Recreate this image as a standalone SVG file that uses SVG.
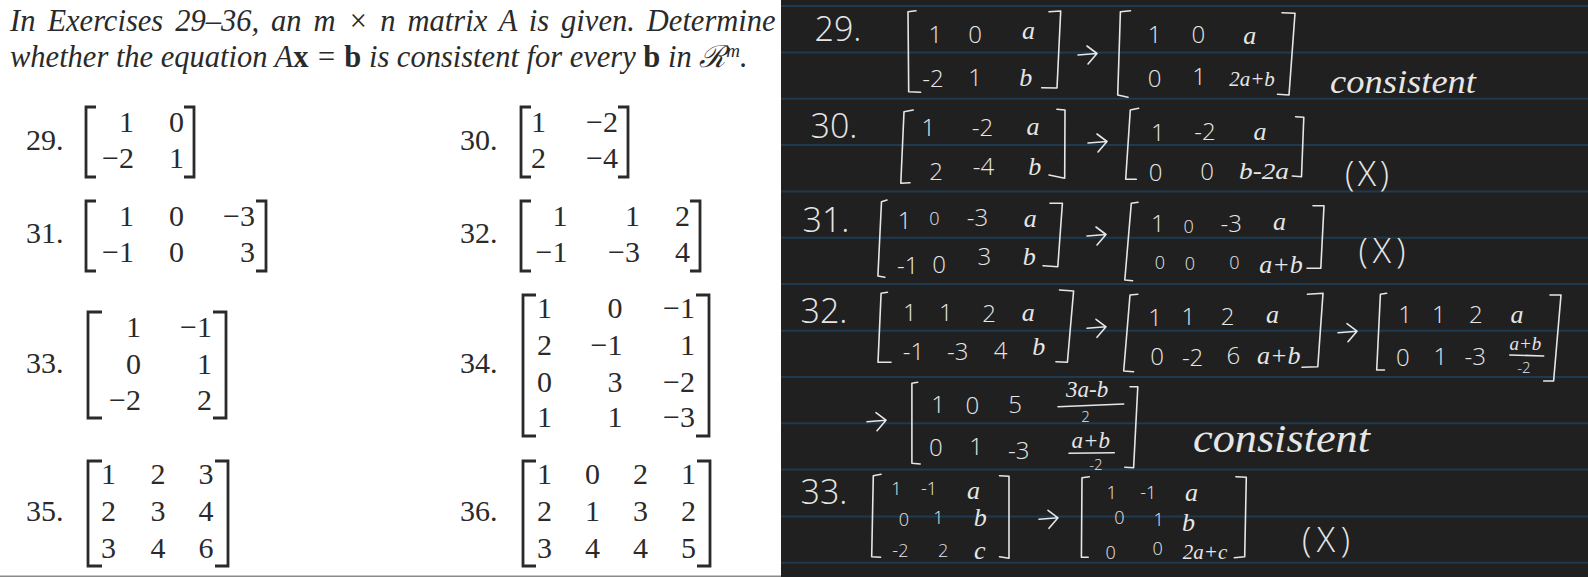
<svg xmlns="http://www.w3.org/2000/svg" width="1588" height="577" viewBox="0 0 1588 577">
<style>
.p{font-family:"Liberation Serif","Times New Roman",serif;font-size:30px;fill:#2a2a2a}
.lead{font-size:30.5px}
.it{font-style:italic}
.b{font-weight:bold;font-style:normal}
.e{text-anchor:end}
.br{fill:none;stroke:#2a2a2a;stroke-width:2.8}
.h{font-family:"Open Sans","Liberation Sans",sans-serif;font-weight:300;fill:#e6e6e6;text-anchor:middle;dominant-baseline:central;font-size:24px}
.l{font-family:"Liberation Serif",serif;font-style:italic;fill:#e6e6e6;text-anchor:middle;dominant-baseline:central;font-size:26px}
.sm{font-size:18px}
.md{font-size:21px}
.xs{font-size:15px}
.big{font-size:34px}
.con{text-anchor:start;dominant-baseline:auto}
.s{fill:none;stroke:#e6e6e6;stroke-width:1.6;stroke-linecap:round;stroke-linejoin:round}
.rule{stroke:#1d3a50;stroke-width:2}
</style>
<defs>
<path id="arrow" class="s" d="M0,0 L19,-1.5 M9,-9 L19,-1.5 L10,9"/>
</defs>
<rect width="1588" height="577" fill="#ffffff"/>
<rect x="0" y="575.5" width="781" height="1.5" fill="#8a8a8a"/>
<g id="textbook">
<text class="p lead it" x="10" y="31" word-spacing="4.4">In Exercises 29–36, an m × n matrix A is given. Determine</text>
<text class="p lead it" x="10" y="66.7">whether the equation A<tspan class="b">x</tspan> = <tspan class="b">b</tspan> is consistent for every <tspan class="b">b</tspan> in ℛ<tspan font-size="19" dy="-10">m</tspan><tspan dy="10">.</tspan></text>
<g id="ex29"><text class="p" x="26" y="150">29.</text><path class="br" d="M96,107H86V177H96M184,107H194V177H184"/>
<text class="p e" x="134" y="131.7">1</text><text class="p e" x="184" y="131.7">0</text><text class="p e" x="134" y="167.7">−2</text><text class="p e" x="184" y="167.7">1</text></g>
<g id="ex30"><text class="p" x="460" y="150">30.</text><path class="br" d="M531,107H521V177H531M618,107H628V177H618"/>
<text class="p e" x="546" y="131.7">1</text><text class="p e" x="618" y="131.7">−2</text><text class="p e" x="546" y="167.7">2</text><text class="p e" x="618" y="167.7">−4</text></g>
<g id="ex31"><text class="p" x="26" y="243">31.</text><path class="br" d="M96,201H86V271H96M256,201H266V271H256"/>
<text class="p e" x="134" y="225.7">1</text><text class="p e" x="184" y="225.7">0</text><text class="p e" x="255" y="225.7">−3</text><text class="p e" x="134" y="261.7">−1</text><text class="p e" x="184" y="261.7">0</text><text class="p e" x="255" y="261.7">3</text></g>
<g id="ex32"><text class="p" x="460" y="243">32.</text><path class="br" d="M531,201H521V271H531M690,201H700V271H690"/>
<text class="p e" x="567.5" y="225.7">1</text><text class="p e" x="640" y="225.7">1</text><text class="p e" x="690" y="225.7">2</text><text class="p e" x="567.5" y="261.7">−1</text><text class="p e" x="640" y="261.7">−3</text><text class="p e" x="690" y="261.7">4</text></g>
<g id="ex33"><text class="p" x="26" y="373">33.</text><path class="br" d="M102,312H88V418H102M213,312H226V418H213"/>
<text class="p e" x="141" y="337.3">1</text><text class="p e" x="212" y="337.3">−1</text><text class="p e" x="141" y="374">0</text><text class="p e" x="212" y="374">1</text><text class="p e" x="141" y="410">−2</text><text class="p e" x="212" y="410">2</text></g>
<g id="ex34"><text class="p" x="460" y="373">34.</text><path class="br" d="M536,295H523V436H536M696,295H709V436H696"/>
<text class="p e" x="552" y="318.3">1</text><text class="p e" x="622.5" y="318.3">0</text><text class="p e" x="695" y="318.3">−1</text>
<text class="p e" x="552" y="355">2</text><text class="p e" x="622.5" y="355">−1</text><text class="p e" x="695" y="355">1</text>
<text class="p e" x="552" y="391.7">0</text><text class="p e" x="622.5" y="391.7">3</text><text class="p e" x="695" y="391.7">−2</text>
<text class="p e" x="552" y="427.3">1</text><text class="p e" x="622.5" y="427.3">1</text><text class="p e" x="695" y="427.3">−3</text></g>
<g id="ex35"><text class="p" x="26" y="520.7">35.</text><path class="br" d="M102,461H88V566H102M215,461H228V566H215"/>
<text class="p e" x="116" y="484.3">1</text><text class="p e" x="165.5" y="484.3">2</text><text class="p e" x="213.5" y="484.3">3</text>
<text class="p e" x="116" y="521">2</text><text class="p e" x="165.5" y="521">3</text><text class="p e" x="213.5" y="521">4</text>
<text class="p e" x="116" y="557.7">3</text><text class="p e" x="165.5" y="557.7">4</text><text class="p e" x="213.5" y="557.7">6</text></g>
<g id="ex36"><text class="p" x="460" y="520.7">36.</text><path class="br" d="M536,461H523V566H536M697,461H710V566H697"/>
<text class="p e" x="552" y="484.3">1</text><text class="p e" x="600" y="484.3">0</text><text class="p e" x="648" y="484.3">2</text><text class="p e" x="696" y="484.3">1</text>
<text class="p e" x="552" y="521">2</text><text class="p e" x="600" y="521">1</text><text class="p e" x="648" y="521">3</text><text class="p e" x="696" y="521">2</text>
<text class="p e" x="552" y="557.7">3</text><text class="p e" x="600" y="557.7">4</text><text class="p e" x="648" y="557.7">4</text><text class="p e" x="696" y="557.7">5</text></g>
</g>
<rect id="notes-bg" x="781" y="0" width="807" height="577" fill="#202020"/>
<g id="rules" class="rule">
<path d="M781,6H1588M781,52.4H1588M781,98.7H1588M781,145H1588M781,191.5H1588M781,237.8H1588M781,284H1588M781,330.7H1588M781,377H1588M781,423.3H1588M781,469.5H1588M781,516.5H1588M781,562.7H1588"/>
</g>
<g id="notes">
<g id="n29">
<text class="h big" x="838" y="28">29.</text>
<path class="s" d="M916,10.7L908,11.7L908.7,91.7L920.6,92.3M1049,11.7L1060.7,11L1057,88L1041.7,87.7"/>
<text class="h" x="935.3" y="33">1</text><text class="h" x="975.2" y="33">0</text><text class="l" x="1028.5" y="30">a</text>
<text class="h" x="933" y="77">-2</text><text class="h" x="975" y="76">1</text><text class="l" x="1025.7" y="77">b</text>
<use href="#arrow" x="1078" y="55"/>
<path class="s" d="M1130.5,10.7L1120.4,11.7L1117.7,95L1128,97.3M1282,12.7L1295,13.3L1289,95L1277.5,94.3"/>
<text class="h" x="1154.6" y="33">1</text><text class="h" x="1198.3" y="33">0</text><text class="l" x="1249.7" y="35">a</text>
<text class="h" x="1154.6" y="77">0</text><text class="h" x="1199" y="75">1</text><text class="l md" x="1252" y="79">2a+b</text>
<text class="l con" x="1330" y="93" style="font-size:34px" textLength="146" lengthAdjust="spacingAndGlyphs">consistent</text>
</g>
<g id="n30">
<text class="h big" x="834" y="125">30.</text>
<path class="s" d="M913.2,110L904,111.7L900.8,183.3L910,182.7M1056.9,109.3L1065,110L1064.7,178.3L1049,175"/>
<text class="h" x="928.4" y="126.7">1</text><text class="h" x="982.5" y="126">-2</text><text class="l" x="1033" y="126">a</text>
<text class="h" x="936.2" y="170">2</text><text class="h" x="983.4" y="165">-4</text><text class="l" x="1034.8" y="166.7">b</text>
<use href="#arrow" x="1088" y="143"/>
<path class="s" d="M1138.6,108.3L1130.3,110L1125.7,179.3L1136.3,179.3M1295.6,116.7L1303.8,117.3L1301.5,176.7L1292.3,176"/>
<text class="h" x="1157.9" y="131.7">1</text><text class="h" x="1205" y="130.7">-2</text><text class="l" x="1260" y="131.7">a</text>
<text class="h" x="1155.6" y="171">0</text><text class="h" x="1207" y="170">0</text><text class="l" x="1264" y="171.7" style="font-size:23px" textLength="50" lengthAdjust="spacingAndGlyphs">b-2a</text>
<text class="h big" x="1367" y="173" textLength="44" lengthAdjust="spacing">(X)</text>
</g>
<g id="n31">
<text class="h big" x="826" y="219">31.</text>
<path class="s" d="M887,200L881.5,201.7L877.9,276L884.8,277.3M1050,203.3L1062.4,203.3L1057.8,266.7L1043,265.7"/>
<text class="h" x="904.5" y="219.3">1</text><text class="h sm" x="934.3" y="218.3">0</text><text class="h" x="977.5" y="216.7">-3</text><text class="l" x="1030.3" y="218.3">a</text>
<text class="h" x="907.7" y="264">-1</text><text class="h" x="939" y="263">0</text><text class="h" x="984.4" y="255">3</text><text class="l" x="1029.3" y="256">b</text>
<use href="#arrow" x="1087" y="236"/>
<path class="s" d="M1138,202.3L1131.3,203.3L1124.8,280L1132.6,280.7M1313,205.7L1324,205.7L1320.8,268.3L1307,268.3"/>
<text class="h" x="1157.9" y="222.7">1</text><text class="h sm" x="1188.6" y="226">0</text><text class="h" x="1231.3" y="222.7">-3</text><text class="l" x="1279.5" y="221">a</text>
<text class="h sm" x="1160" y="262.3">0</text><text class="h sm" x="1190" y="263.3">0</text><text class="h sm" x="1234.5" y="261.7">0</text><text class="l" x="1281" y="264">a+b</text>
<text class="h big" x="1382" y="250" textLength="47" lengthAdjust="spacing">(X)</text>
</g>
<g id="n32">
<text class="h big" x="824" y="310">32.</text>
<path class="s" d="M887.4,292.3L881.1,293.3L878,362.3L891,362.3M1059.5,290L1073.6,291L1067.4,362.3L1055.9,361.7"/>
<text class="h" x="909.8" y="311.7">1</text><text class="h" x="945.8" y="311.7">1</text><text class="h" x="989" y="312.3">2</text><text class="l" x="1028.2" y="312.3">a</text>
<text class="h" x="913.5" y="350">-1</text><text class="h" x="957.8" y="350">-3</text><text class="h" x="1000.6" y="349">4</text><text class="l" x="1038.7" y="346.7">b</text>
<use href="#arrow" x="1087" y="328.3"/>
<path class="s" d="M1137.8,294.3L1130,295L1123.7,371L1133.6,371.7M1307.4,294.3L1323,293.3L1317.8,366.7L1302,367.3"/>
<text class="h" x="1155" y="316.7">1</text><text class="h" x="1188.4" y="315">1</text><text class="h" x="1227.5" y="315">2</text><text class="l" x="1272.4" y="314.3">a</text>
<text class="h" x="1157" y="355.7">0</text><text class="h" x="1192.6" y="356.7">-2</text><text class="h" x="1233.3" y="354">6</text><text class="l" x="1278.7" y="355">a+b</text>
<use href="#arrow" x="1338" y="332.7"/>
<path class="s" d="M1386.6,293.3L1380.4,294.3L1376.7,370L1384.5,370M1550,295L1561,295L1553.6,381L1543.7,381"/>
<text class="h" x="1405" y="313.3">1</text><text class="h" x="1438.8" y="313.3">1</text><text class="h" x="1475.9" y="313.3">2</text><text class="l" x="1517" y="314.3">a</text>
<text class="h" x="1402.8" y="356.7">0</text><text class="h" x="1440.4" y="355.7">1</text><text class="h" x="1475.3" y="355.7">-3</text>
<text class="l" x="1525.4" y="343" style="font-size:19px">a+b</text><path class="s" d="M1509.8,355L1543.7,356"/><text class="h xs" x="1523.9" y="367">-2</text>
<use href="#arrow" x="867" y="421.7"/>
<path class="s" d="M917.6,382.3L911.9,383.3L911.9,463.3L920.2,464M1130,386.7L1137.8,386.7L1133.6,467.7L1124.8,467.3"/>
<text class="h" x="938" y="403.3">1</text><text class="h" x="972.4" y="404.3">0</text><text class="h" x="1015.2" y="403.3">5</text>
<text class="l" x="1087.2" y="389" style="font-size:23px">3a-b</text><path class="s" d="M1058,406.7L1123.7,404"/><text class="h xs" x="1085.6" y="416">2</text>
<text class="h" x="935.9" y="446.7">0</text><text class="h" x="976" y="445.7">1</text><text class="h" x="1018.8" y="449">-3</text>
<text class="l" x="1090.8" y="440" style="font-size:23px">a+b</text><path class="s" d="M1069,453.3L1114.3,452.7"/><text class="h xs" x="1096" y="464">-2</text>
<text class="l con" x="1193" y="451.7" style="font-size:40px" textLength="177" lengthAdjust="spacingAndGlyphs">consistent</text>
</g>
<g id="n33">
<text class="h big" x="824" y="491">33.</text>
<path class="s" d="M881,474.3L873.3,475.7L871.7,556.7L880.6,557.3M999.5,475.7L1009,476.3L1009,558.3L999.5,556.7"/>
<text class="h sm" x="896.3" y="488.3">1</text><text class="h sm" x="929" y="488.3">-1</text><text class="l" x="973.5" y="490">a</text>
<text class="h sm" x="904" y="519.3">0</text><text class="h sm" x="938.5" y="517.3">1</text><text class="l" x="980.2" y="517.3">b</text>
<text class="h sm" x="900.4" y="550">-2</text><text class="h sm" x="943.2" y="550">2</text><text class="l" x="979.7" y="550">c</text>
<use href="#arrow" x="1039" y="519.3"/>
<path class="s" d="M1089.3,476.7L1082,477.7L1081.4,557.3L1088.2,557.3M1235.9,476.7L1246.3,477.3L1244.7,556.7L1234.3,557.7"/>
<text class="h sm" x="1111.7" y="492.3">1</text><text class="h sm" x="1148.2" y="491.7">-1</text><text class="l" x="1191.5" y="492.3">a</text>
<text class="h sm" x="1119.5" y="517.3">0</text><text class="h sm" x="1158.7" y="519.3">1</text><text class="l" x="1188.4" y="522.3">b</text>
<text class="h sm" x="1110.7" y="551.7">0</text><text class="h sm" x="1157.6" y="548.3">0</text><text class="l" x="1205" y="551.7" style="font-size:21px">2a+c</text>
<text class="h big" x="1326" y="539" textLength="48" lengthAdjust="spacing">(X)</text>
</g>
</g>
</svg>
